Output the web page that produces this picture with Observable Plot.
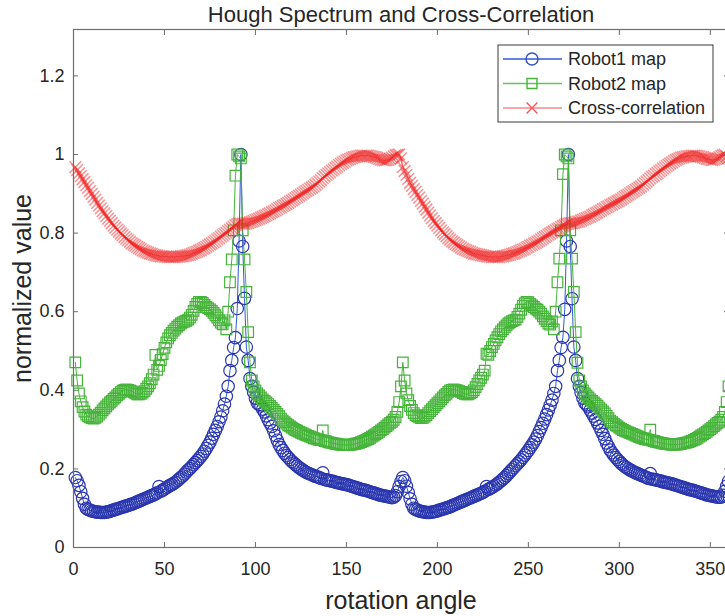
<!DOCTYPE html>
<html><head><meta charset="utf-8">
<script src="https://cdn.jsdelivr.net/npm/d3@7"></script>
<script src="https://cdn.jsdelivr.net/npm/@observablehq/plot@0.6"></script>
<style>html,body{margin:0;padding:0;background:#fff;overflow:hidden} svg{display:block}</style>
</head><body><div id="chart"></div>
<script>
const titleText = "Hough Spectrum and Cross-Correlation";
const xLabel = "rotation angle";
const yLabel = "normalized value";
const seriesNames = ["Robot1 map", "Robot2 map", "Cross-correlation"];
const xTicks = [0, 50, 100, 150, 200, 250, 300, 350];
const yTicks = [0, 0.2, 0.4, 0.6, 0.8, 1, 1.2];

// rotation angles 1..360 (one sample per degree)
const angles = Array.from({length: 360}, (_, i) => i + 1);

// Robot1 map (blue circles), angles 1..360
const robot1 = [
.178,.170,.158,.142,.125,.110,.100,.097,.095,.093,
.092,.091,.090,.090,.089,.089,.089,.090,.091,.092,
.094,.095,.097,.098,.100,.101,.103,.104,.106,.107,
.109,.110,.112,.114,.116,.118,.120,.122,.124,.126,
.128,.130,.132,.134,.136,.139,.155,.143,.146,.149,
.152,.155,.158,.160,.163,.166,.170,.174,.178,.182,
.187,.192,.197,.201,.206,.211,.216,.221,.226,.232,
.238,.245,.252,.260,.268,.278,.288,.298,.308,.320,
.332,.348,.365,.385,.410,.450,.476,.509,.534,.608,
.780,1.000,.766,.634,.510,.476,.430,.410,.395,.380,
.368,.364,.360,.352,.345,.335,.325,.317,.308,.297,
.285,.273,.262,.254,.247,.240,.234,.229,.224,.219,
.215,.211,.207,.203,.200,.197,.194,.191,.189,.187,
.185,.183,.181,.180,.178,.176,.190,.173,.172,.171,
.170,.169,.168,.166,.165,.164,.163,.162,.161,.160,
.159,.157,.156,.154,.153,.151,.150,.148,.147,.146,
.145,.143,.142,.140,.139,.137,.136,.134,.133,.132,
.131,.130,.129,.128,.127,.128,.132,.142,.155,.168,
.178,.170,.156,.140,.124,.110,.100,.097,.095,.093,
.092,.091,.090,.089,.089,.089,.090,.091,.092,.093,
.095,.096,.098,.099,.101,.102,.104,.106,.108,.110,
.112,.114,.116,.118,.120,.122,.124,.126,.128,.130,
.132,.134,.136,.138,.140,.143,.155,.148,.150,.153,
.156,.159,.162,.166,.170,.174,.178,.183,.188,.193,
.198,.203,.208,.213,.218,.223,.229,.235,.241,.247,
.254,.261,.268,.276,.285,.295,.305,.316,.327,.338,
.350,.362,.375,.392,.410,.450,.476,.509,.535,.606,
.780,1.000,.766,.633,.510,.476,.430,.410,.394,.380,
.368,.363,.358,.350,.342,.334,.326,.317,.308,.298,
.288,.277,.266,.257,.248,.241,.235,.229,.224,.219,
.214,.210,.206,.203,.200,.197,.195,.192,.190,.188,
.186,.184,.182,.180,.178,.176,.188,.174,.173,.172,
.171,.170,.169,.167,.166,.165,.164,.163,.162,.160,
.159,.157,.156,.154,.153,.151,.150,.148,.147,.146,
.145,.143,.142,.140,.139,.137,.136,.134,.133,.132,
.131,.130,.129,.128,.128,.128,.133,.143,.156,.168];

// Robot2 map (green squares), angles 1..360
const robot2 = [
.471,.425,.392,.372,.357,.346,.338,.334,.331,.329,
.328,.330,.333,.338,.343,.349,.354,.359,.364,.369,
.373,.378,.382,.387,.391,.395,.399,.401,.402,.401,
.400,.398,.395,.392,.390,.390,.391,.394,.398,.404,
.410,.418,.428,.440,.490,.452,.462,.477,.492,.508,
.522,.532,.540,.546,.552,.557,.562,.566,.570,.573,
.575,.577,.580,.585,.592,.602,.612,.620,.625,.625,
.622,.617,.612,.609,.606,.602,.597,.591,.585,.578,
.572,.568,.578,.555,.600,.675,.733,.807,.946,1.000,
.995,.990,.807,.733,.650,.548,.471,.425,.410,.400,
.392,.387,.382,.377,.373,.369,.365,.360,.355,.350,
.345,.340,.334,.328,.323,.319,.315,.311,.308,.305,
.302,.299,.297,.294,.292,.290,.288,.286,.284,.282,
.280,.278,.277,.275,.274,.273,.298,.271,.270,.268,
.267,.266,.265,.264,.263,.262,.262,.261,.261,.261,
.261,.261,.262,.263,.264,.265,.266,.268,.270,.272,
.274,.276,.279,.282,.285,.288,.291,.294,.298,.301,
.305,.309,.313,.317,.320,.325,.332,.345,.370,.410,
.471,.425,.392,.375,.360,.350,.342,.337,.334,.331,
.329,.330,.333,.337,.342,.347,.352,.357,.362,.367,
.372,.377,.382,.387,.391,.396,.400,.401,.402,.401,
.400,.398,.396,.393,.391,.390,.390,.392,.395,.400,
.408,.416,.425,.432,.440,.450,.493,.490,.500,.510,
.518,.527,.535,.543,.550,.555,.560,.565,.570,.573,
.576,.578,.580,.587,.595,.605,.615,.621,.625,.624,
.620,.616,.612,.608,.605,.600,.595,.588,.582,.576,
.570,.567,.575,.555,.600,.675,.735,.807,.950,1.000,
.995,.990,.807,.735,.650,.548,.470,.425,.410,.400,
.392,.387,.382,.377,.373,.369,.365,.361,.356,.351,
.346,.341,.335,.329,.323,.319,.315,.311,.308,.305,
.302,.299,.297,.295,.293,.291,.289,.287,.285,.283,
.281,.279,.278,.276,.275,.274,.300,.272,.271,.269,
.268,.267,.266,.265,.264,.263,.263,.262,.262,.262,
.262,.262,.263,.264,.265,.266,.267,.268,.270,.272,
.274,.276,.279,.282,.285,.288,.291,.294,.298,.301,
.305,.309,.313,.317,.320,.325,.332,.345,.370,.410];

// Cross-correlation (red crosses), angles 1..360
const cross = [
.968,.960,.952,.945,.937,.930,.922,.915,.907,.900,
.892,.885,.877,.870,.863,.856,.850,.843,.837,.831,
.825,.819,.814,.809,.804,.799,.795,.790,.786,.782,
.778,.774,.771,.768,.765,.762,.759,.756,.754,.752,
.750,.748,.747,.745,.744,.743,.742,.741,.741,.740,
.740,.739,.739,.739,.739,.739,.740,.740,.741,.741,
.742,.743,.744,.745,.747,.749,.751,.753,.755,.757,
.760,.762,.765,.768,.771,.774,.777,.780,.784,.787,
.791,.794,.798,.801,.805,.808,.812,.816,.820,.822,
.824,.824,.824,.824,.825,.826,.828,.829,.831,.833,
.835,.837,.839,.841,.843,.845,.848,.850,.853,.855,
.858,.861,.864,.866,.869,.871,.874,.877,.880,.883,
.886,.889,.892,.895,.898,.901,.904,.907,.910,.913,
.916,.919,.923,.927,.931,.935,.940,.944,.948,.952,
.955,.959,.962,.966,.969,.973,.976,.979,.982,.985,
.987,.989,.991,.993,.994,.995,.996,.997,.997,.997,
.997,.997,.996,.995,.994,.993,.991,.989,.987,.986,
.985,.986,.987,.989,.992,.995,.998,.999,1.000,.990,
.968,.958,.948,.938,.928,.920,.912,.905,.897,.890,
.882,.875,.867,.860,.852,.845,.838,.831,.825,.819,
.813,.807,.802,.797,.792,.787,.783,.779,.776,.772,
.769,.766,.763,.760,.758,.756,.754,.752,.750,.748,
.747,.746,.745,.744,.743,.742,.741,.740,.740,.739,
.739,.739,.739,.739,.740,.741,.742,.743,.744,.745,
.747,.748,.750,.752,.754,.756,.758,.760,.763,.765,
.768,.770,.773,.775,.778,.781,.784,.787,.790,.793,
.796,.799,.802,.804,.807,.810,.812,.815,.818,.820,
.823,.824,.825,.825,.826,.827,.829,.830,.832,.834,
.836,.838,.840,.842,.845,.847,.850,.852,.855,.858,
.861,.863,.866,.868,.871,.873,.876,.878,.881,.883,
.886,.889,.892,.895,.898,.901,.904,.907,.910,.913,
.916,.919,.923,.927,.931,.935,.939,.943,.946,.950,
.953,.957,.960,.964,.967,.971,.974,.977,.980,.983,
.986,.988,.990,.992,.993,.994,.995,.996,.996,.997,
.997,.997,.996,.995,.994,.993,.991,.989,.988,.987,
.986,.987,.988,.990,.993,.996,.998,.999,.995,.990];

if (robot1.length !== 360 || robot2.length !== 360 || cross.length !== 360)
  throw new Error(`length mismatch ${robot1.length} ${robot2.length} ${cross.length}`);

const r1 = angles.map((a, i) => ({angle: a, value: robot1[i]}));
const r2 = angles.map((a, i) => ({angle: a, value: robot2[i]}));
const cc = angles.map((a, i) => ({angle: a, value: cross[i]}));

const blueLine = "#2f5bd6", blueMark = "#2a36ae";
const green = "#46b43a";
const red = "#f02424";
const axisGray = "#6e6e6e";
const textCol = "#262626";
const font = "'Liberation Sans', Arial, Helvetica, sans-serif";

const chart = Plot.plot({
  width: 725, height: 616,
  marginLeft: 73, marginRight: -3, marginTop: 29, marginBottom: 69,
  style: {fontFamily: font, background: "#fff", color: textCol},
  x: {domain: [0, 360]},
  y: {domain: [0, 1.318]},
  marks: [
    Plot.line(r1, {x: "angle", y: "value", stroke: blueLine, strokeWidth: 1}),
    Plot.dot(r1, {x: "angle", y: "value", r: 6.2, stroke: blueMark, fill: "none", strokeWidth: 1.2}),
    Plot.line(r2, {x: "angle", y: "value", stroke: green, strokeWidth: 1}),
    Plot.dot(r2, {x: "angle", y: "value", symbol: "square", r: 6, stroke: green, fill: "none", strokeWidth: 1.2}),
    Plot.line(cc, {x: "angle", y: "value", stroke: red, strokeOpacity: 0.7, strokeWidth: 1.4}),
    Plot.dot(cc, {x: "angle", y: "value", symbol: "times", r: 5.4, stroke: red, strokeOpacity: 0.5, strokeWidth: 1.5, fill: "none"}),
    Plot.frame({stroke: axisGray, strokeWidth: 1.2}),
    Plot.axisX(xTicks, {anchor: "bottom", tickSize: 5, dy: -5, fill: "none", label: null, stroke: axisGray}),
    Plot.axisX(xTicks, {anchor: "top", tickSize: 5, dy: 5, fill: "none", label: null, stroke: axisGray}),
    Plot.axisY(yTicks, {anchor: "left", tickSize: 5, dx: 5, fill: "none", label: null, stroke: axisGray}),
    Plot.axisY(yTicks, {anchor: "right", tickSize: 5, dx: -5, fill: "none", label: null, stroke: axisGray}),
    Plot.axisX(xTicks, {anchor: "bottom", tickSize: 0, tickPadding: 15, fontSize: 18, label: null, fill: textCol}),
    Plot.axisY(yTicks, {anchor: "left", tickSize: 0, tickPadding: 9, fontSize: 18, label: null, fill: textCol, tickFormat: d => String(+d.toFixed(1))}),
    Plot.text([xLabel], {text: d => d, frameAnchor: "bottom", dy: 53, textAnchor: "middle", lineAnchor: "middle", fontSize: 25, fill: textCol}),
    Plot.text([yLabel], {text: d => d, frameAnchor: "left", dx: -51, rotate: -90, textAnchor: "middle", lineAnchor: "middle", fontSize: 25, fill: textCol}),
    Plot.text([titleText], {text: d => d, frameAnchor: "top", dy: -15, textAnchor: "middle", lineAnchor: "middle", fontSize: 22, fill: textCol})
  ]
});

// legend inside the axes (top-right)
const svg = d3.select(chart);
const lg = svg.append("g").attr("font-family", font).attr("font-size", 18).attr("fill", textCol).attr("text-anchor", "start");
lg.append("rect").attr("x", 498).attr("y", 45).attr("width", 215).attr("height", 77)
  .attr("fill", "#fff").attr("stroke", "#3a3a3a").attr("stroke-width", 1);
const legendStyles = [
  {line: blueLine, mark: "#3050c8", sym: d3.symbolCircle, size: Math.PI * 6 * 6},
  {line: "#5cc85c", mark: green, sym: d3.symbolSquare, size: Math.PI * 5.6 * 5.6},
  {line: "#f58a8a", mark: "#f25a5a", sym: d3.symbolTimes, size: Math.PI * 5 * 5}
];
seriesNames.forEach((name, i) => {
  const yy = 59 + i * 24.5;
  const s = legendStyles[i];
  lg.append("line").attr("x1", 503).attr("x2", 562).attr("y1", yy).attr("y2", yy)
    .attr("stroke", s.line).attr("stroke-width", 1.3);
  lg.append("path").attr("d", d3.symbol(s.sym, s.size)()).attr("transform", `translate(532,${yy})`)
    .attr("fill", "none").attr("stroke", s.mark).attr("stroke-width", 1.4);
  lg.append("text").attr("x", 568).attr("y", yy).attr("dy", "0.35em").attr("text-anchor", "start").text(name);
});

document.getElementById("chart").appendChild(chart);
</script>
</body></html>
